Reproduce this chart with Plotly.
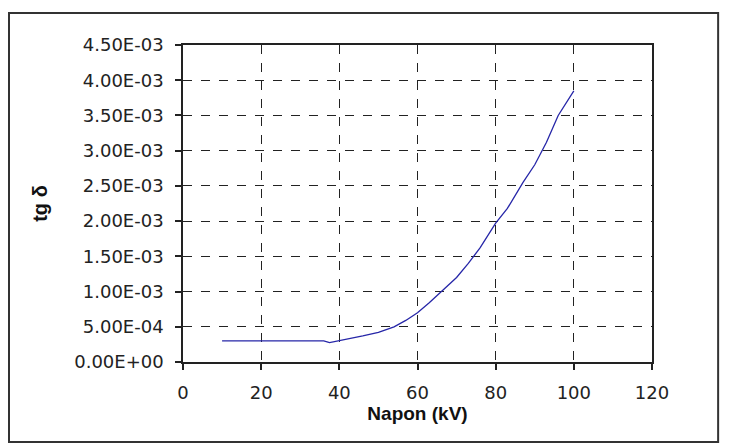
import plotly.graph_objects as go

# measured points: voltage (kV) vs tg delta
napon_kv = [10, 20, 30, 36, 37.5, 40, 43, 46, 50, 54, 57, 60, 63, 66,
            70, 73, 76, 80, 83, 87, 90, 93, 96, 100]
tg_delta = [0.30e-3, 0.30e-3, 0.30e-3, 0.30e-3, 0.275e-3, 0.30e-3,
            0.33e-3, 0.37e-3, 0.42e-3, 0.50e-3, 0.59e-3, 0.70e-3,
            0.84e-3, 0.99e-3, 1.20e-3, 1.40e-3, 1.62e-3, 1.97e-3,
            2.18e-3, 2.55e-3, 2.80e-3, 3.12e-3, 3.50e-3, 3.85e-3]

y_ticks = [0, 0.5e-3, 1.0e-3, 1.5e-3, 2.0e-3, 2.5e-3, 3.0e-3, 3.5e-3,
           4.0e-3, 4.5e-3]
y_labels = [f"{v:.2E}" for v in y_ticks]
x_ticks = [0, 20, 40, 60, 80, 100, 120]

font = "Liberation Sans, Arial, sans-serif"
tick_font = "DejaVu Sans, Verdana, sans-serif"

fig = go.Figure()
fig.add_trace(go.Scatter(x=napon_kv, y=tg_delta, mode="lines",
                         line=dict(color="#2626a8", width=1.3),
                         showlegend=False))

axis_common = dict(showline=True, linecolor="#222", linewidth=1.5,
                   mirror=True, ticks="outside", tickcolor="#222",
                   ticklen=6, tickwidth=1.5,
                   showgrid=True, gridcolor="#222", griddash="dash",
                   gridwidth=1.2, zeroline=False,
                   tickfont=dict(family=tick_font, size=18, color="#222"))

fig.update_xaxes(range=[0, 120], tickvals=x_ticks,
                 title=dict(text="<b>Napon (kV)</b>", standoff=4,
                            font=dict(family=font, size=19, color="#111")),
                 ticklabelstandoff=8, **axis_common)
fig.update_yaxes(range=[0, 4.5e-3], tickvals=y_ticks, ticktext=y_labels,
                 title=dict(text="<b>tg δ</b>", standoff=21,
                            font=dict(family=font, size=20, color="#111")),
                 ticklabelstandoff=8, **axis_common)

fig.update_layout(width=736, height=447,
                  margin=dict(l=175, r=92, t=37, b=93),
                  paper_bgcolor="white", plot_bgcolor="white",
                  shapes=[dict(type="rect", xref="paper", yref="paper",
                               x0=-0.371, x1=1.141, y0=-0.252, y1=1.101,
                               line=dict(color="#333", width=2),
                               layer="below")])

fig.write_html("out.html")
